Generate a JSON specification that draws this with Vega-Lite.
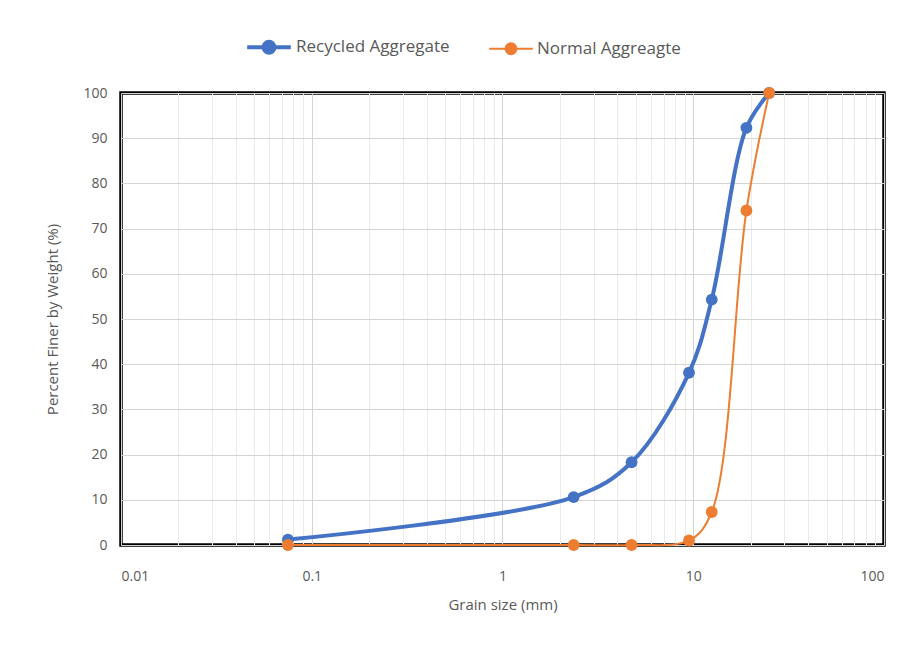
{
  "$schema": "https://vega.github.io/schema/vega-lite/v6.json",
  "width": 763,
  "height": 452,
  "autosize": {"type": "none"},
  "padding": {"left": 121, "top": 93, "right": 28, "bottom": 100},
  "background": "white",
  "config": {
    "view": {"stroke": "#000000", "strokeWidth": 3.5},
    "font": "Open Sans"
  },
  "data": {
    "values": [
      {"size": 0.075, "pct": 1.2, "series": "Recycled Aggregate"},
      {"size": 2.36, "pct": 10.6, "series": "Recycled Aggregate"},
      {"size": 4.75, "pct": 18.3, "series": "Recycled Aggregate"},
      {"size": 9.5, "pct": 38.1, "series": "Recycled Aggregate"},
      {"size": 12.5, "pct": 54.3, "series": "Recycled Aggregate"},
      {"size": 19, "pct": 92.3, "series": "Recycled Aggregate"},
      {"size": 25, "pct": 100, "series": "Recycled Aggregate"},
      {"size": 0.075, "pct": 0, "series": "Normal Aggreagte"},
      {"size": 2.36, "pct": 0, "series": "Normal Aggreagte"},
      {"size": 4.75, "pct": 0, "series": "Normal Aggreagte"},
      {"size": 9.5, "pct": 1, "series": "Normal Aggreagte"},
      {"size": 12.5, "pct": 7.3, "series": "Normal Aggreagte"},
      {"size": 19, "pct": 74, "series": "Normal Aggreagte"},
      {"size": 25, "pct": 100, "series": "Normal Aggreagte"}
    ]
  },
  "layer": [
    {
      "mark": {"type": "line", "interpolate": "catmull-rom", "clip": false},
      "encoding": {
        "x": {
          "field": "size", "type": "quantitative",
          "scale": {"type": "log", "domain": [0.01, 100], "nice": false},
          "axis": {
            "orient": "top",
            "values": [0.02,0.03,0.04,0.05,0.06,0.07,0.08,0.09,0.2,0.3,0.4,0.5,0.6,0.7,0.8,0.9,2,3,4,5,6,7,8,9,20,30,40,50,60,70,80,90],
            "grid": true, "gridColor": "#ebebeb", "gridWidth": 1,
            "labels": false, "ticks": false, "domain": false, "title": null
          }
        },
        "y": {
          "field": "pct", "type": "quantitative",
          "scale": {"domain": [0, 100], "nice": false},
          "axis": {
            "values": [0,10,20,30,40,50,60,70,80,90,100],
            "grid": true, "gridColor": "#d4d4d4",
            "ticks": false, "domain": false,
            "labelFontSize": 14, "labelColor": "#595959", "labelPadding": 14,
            "title": "Percent Finer by Weight (%)",
            "titleFontSize": 15, "titleFontWeight": "normal", "titleColor": "#595959", "titlePadding": 22
          }
        },
        "color": {
          "field": "series", "type": "nominal",
          "scale": {"domain": ["Recycled Aggregate", "Normal Aggreagte"], "range": ["#4472C4", "#ED7D31"]},
          "legend": {
            "title": null, "orient": "none", "direction": "horizontal",
            "legendX": 124, "legendY": -70,
            "symbolType": "M-1,0H1M-0.25,0A0.25,0.25,0,1,1,0.25,0A0.25,0.25,0,1,1,-0.25,0Z",
            "symbolSize": 1900, "symbolStrokeWidth": 3,
            "labelFontSize": 17, "labelColor": "#595959", "labelOffset": 3,
            "columnPadding": 35
          }
        },
        "strokeWidth": {
          "field": "series", "type": "nominal",
          "scale": {"domain": ["Recycled Aggregate", "Normal Aggreagte"], "range": [4, 2]},
          "legend": null
        }
      }
    },
    {
      "mark": {"type": "point", "filled": true, "opacity": 1, "size": 140, "clip": false},
      "encoding": {
        "x": {
          "field": "size", "type": "quantitative",
          "scale": {"type": "log", "domain": [0.01, 100], "nice": false},
          "axis": {
            "orient": "bottom",
            "values": [0.01, 0.1, 1, 10, 100],
            "format": "~g",
            "grid": true, "gridColor": "#d4d4d4",
            "ticks": false, "domain": false,
            "labelFontSize": 14, "labelColor": "#595959", "labelPadding": 24,
            "title": "Grain size (mm)",
            "titleFontSize": 15, "titleFontWeight": "normal", "titleColor": "#595959", "titlePadding": 14
          }
        },
        "y": {"field": "pct", "type": "quantitative"},
        "color": {"field": "series", "type": "nominal"}
      }
    }
  ],
  "resolve": {"axis": {"x": "independent"}}
}
